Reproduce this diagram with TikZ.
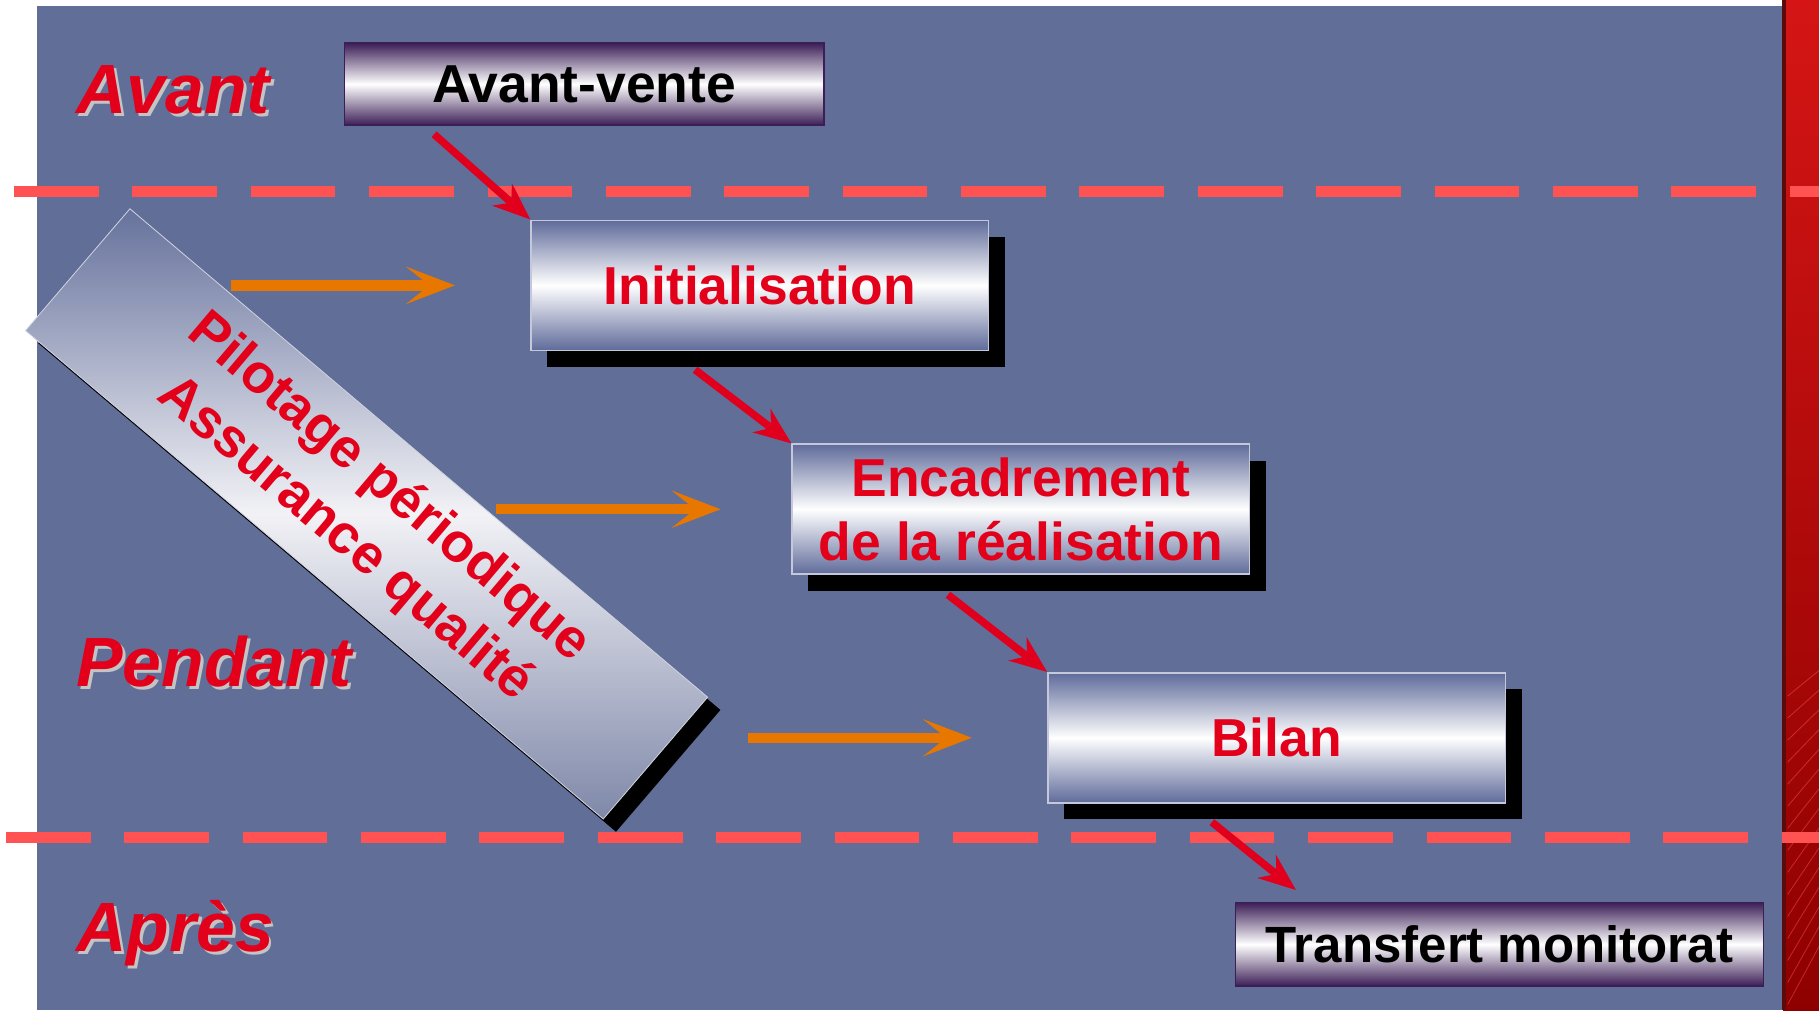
\documentclass[tikz,border=0pt]{standalone}
\usepackage{fontspec}
\setmainfont{Liberation Sans}
\usetikzlibrary{arrows.meta}
\usetikzlibrary{calc}
\usetikzlibrary{shadows}

\definecolor{panel}{HTML}{616E97}
\definecolor{boxslate}{HTML}{5F6B9A}
\definecolor{boxedge}{HTML}{C4C8DA}
\definecolor{salepurple}{HTML}{3B1E56}
\definecolor{titlered}{HTML}{E2001A}
\definecolor{arrowred}{HTML}{E0001E}
\definecolor{feedorange}{HTML}{E87700}
\definecolor{zonered}{HTML}{FF5252}
\definecolor{barred}{HTML}{D51515}
\definecolor{bardark}{HTML}{8E0000}
\definecolor{baredge}{HTML}{5A0C0C}
\definecolor{bandtop}{HTML}{66729C}
\definecolor{bandmid}{HTML}{F2F2F6}
\definecolor{bandbot}{HTML}{7F88A9}
\definecolor{labelshadow}{HTML}{C4C4C4}

\newcommand\boxfont{\fontsize{13.1}{15.6}\selectfont\bfseries}
\newcommand\smallboxfont{\fontsize{12.5}{15}\selectfont\bfseries}
\newcommand\bandfont{\fontsize{13.4}{16.5}\selectfont\bfseries}
\newcommand\phasefont{\fontsize{17.1}{20}\selectfont\bfseries\itshape}
\newcommand\shadowed[1]{\makebox[0pt][l]{\hspace{0.7pt}\raisebox{-0.7pt}{\color{labelshadow}#1}}#1}

\tikzset{
  every picture/.style={font={\bfseries}, >=stealth}}

\begin{document}
\begin{tikzpicture}[x=0.01cm, y=-0.01cm,
    stepbox/.style={draw=boxedge, thin, top color=boxslate, bottom color=boxslate,
      middle color=white, text=titlered, font=\boxfont, align=center,
      minimum width=3.94cm, minimum height=1.12cm, inner sep=0pt,
      drop shadow={shadow xshift=0.14cm, shadow yshift=-0.14cm, opacity=1, fill=black}},
    salebox/.style={draw=salepurple, thin, top color=salepurple, bottom color=salepurple,
      middle color=white, text=black, font=\boxfont, inner sep=0pt},
    phase/.style={anchor=base west, text=titlered, font=\phasefont, inner sep=0pt},
    bandshade/.style={top color=bandtop, bottom color=bandbot, middle color=bandmid},
    bandtext/.style={text=titlered, font=\bandfont, align=center, rotate=-40.2},
    flow/.style={-{Stealth[length=0.32cm, width=0.25cm, inset=0.1cm]}, draw=arrowred,
      line width=0.065cm},
    feed/.style={-{Stealth[length=0.42cm, width=0.32cm, inset=0.2cm]}, draw=feedorange,
      line width=0.09cm},
    zone/.style={draw=zonered, line width=0.09cm, dash pattern=on 0.73cm off 0.29cm}]

    % background
    \useasboundingbox (0,0) rectangle (1568,871);
    \fill[panel] (32,5) rectangle (1537,871);
    \shade[top color=barred, bottom color=bardark] (1537,0) rectangle (1568,871);
    \draw[baredge, line width=0.03cm] (1538,0) -- (1538,871);
    \foreach \k in {0,...,14}
      \draw[red!70!white, opacity=0.5, very thin] (1541,{600+\k*19}) -- (1568,{578+\k*17});

    \draw[zone] (12,165) -- (1568,165);
    \draw[zone] (5,722) -- (1568,722);

    % phases
    \node[phase] (avant) at (65,98) {\shadowed{Avant}};
    \node[phase] (pendant) at (65,592) {\shadowed{Pendant}};
    \node[phase] (apres) at (65,820) {\shadowed{Après}};

    % boxes
    \node[salebox, minimum width=4.13cm, minimum height=0.71cm] (AV) at (503.5,72.5) {Avant-vente};
    \node[stepbox] (INI) at (655,246) {Initialisation};
    \node[stepbox] (ENC) at (880,439) {Encadrement\\de la réalisation};
    \node[stepbox] (BIL) at (1100.5,636) {Bilan};
    \node[salebox, minimum width=4.55cm, minimum height=0.72cm, font=\smallboxfont] (TM)
      at (1292.5,814) {Transfert monitorat};

    % band
    \fill[black] (123,191) -- (621,612) -- (531,717) -- (33,296) -- cycle;
    \shade[bandshade] (112,180) -- (610,601) -- (520,706) -- (22,285) -- cycle;
    \draw[white!70!panel, very thin] (112,180) -- (610,601) -- (520,706) -- (22,285) -- cycle;
    \node[bandtext] (PIL) at (316,443) {Pilotage périodique\\Assurance qualité};

    \coordinate (feedA) at ($(INI.west)+(-258,0)$);
    \coordinate (tipA) at ($(INI.west)+(-65,0)$);
    \coordinate (feedB) at ($(ENC.west)+(-255,0)$);
    \coordinate (tipB) at ($(ENC.west)+(-61,0)$);
    \coordinate (feedC) at ($(BIL.west)+(-258,0)$);
    \coordinate (tipC) at ($(BIL.west)+(-65,0)$);

    \draw[feed] (feedA) -- (tipA);
    \draw[feed] (feedB) -- (tipB);
    \draw[feed] (feedC) -- (tipC);

    \draw[flow] ($(AV.south west)+(78,7)$) -- (INI.north west);
    \draw[flow] ($(INI.south west)+(142,16)$) -- (ENC.north west);
    \draw[flow] ($(ENC.south west)+(135,17)$) -- (BIL.north west);
    \draw[flow] ($(BIL.south west)+(142,16)$) -- ($(TM.north west)+(53,-10)$);
  \end{tikzpicture}
\end{document}
